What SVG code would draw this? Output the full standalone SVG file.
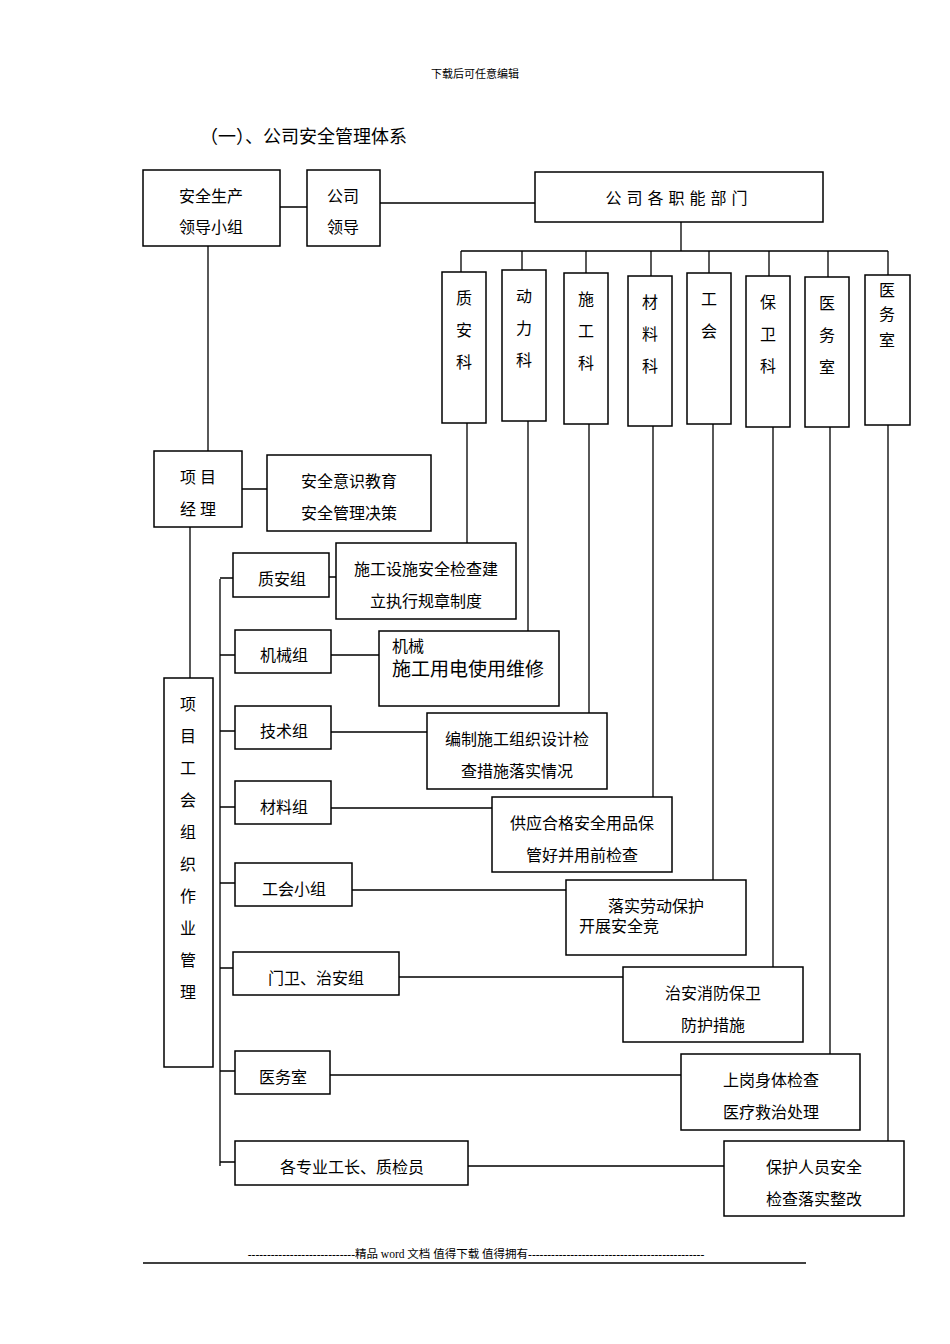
<svg xmlns="http://www.w3.org/2000/svg" width="950" height="1344" viewBox="0 0 950 1344">
<style>
.b{fill:#fff;stroke:#000;stroke-width:1.5}
.l{stroke:#000;stroke-width:1.3;fill:none}
text{font-family:"Liberation Serif","Noto Sans CJK SC",serif;font-size:16px;fill:#000;text-anchor:middle}
text.s{text-anchor:start}
</style>
<rect width="950" height="1344" fill="#fff"/>
<text x="475" y="78" style="font-size:11px">下载后可任意编辑</text>
<text class="s" x="200" y="143" style="font-size:18px">（一）、公司安全管理体系</text>
<g id="connectors">
<path class="l" d="M280 207H307M380 203H535M681 222V251M461 251H888M461 251V272M522 251V270M586 251V273M651 251V276M709 251V273M769 251V276M828 251V277M888 251V275"/>
<path class="l" d="M467 423V543M528 421V634M589 424V717M653 426V802M713 424V890M773 427V967M830 427V1085M888 425V1141"/>
<path class="l" d="M208 246V451M242 489H267M190 527V690M220 579V1166"/>
<path class="l" d="M220 578H245M220 655H245M220 731H245M220 807H245M220 883H245M220 968H245M220 1071H245M220 1162H245"/>
<path class="l" d="M329 577H350M331 655H379M331 732H427M331 808H492M352 890H566M399 977H623M330 1075H681M468 1166H724"/>
</g>
<g id="n1"><rect class="b" x="143" y="170" width="137" height="76"/><text x="211" y="202">安全生产</text><text x="211" y="233">领导小组</text></g>
<g id="n2"><rect class="b" x="307" y="170" width="73" height="76"/><text x="343" y="202">公司</text><text x="343" y="233">领导</text></g>
<g id="n3"><rect class="b" x="535" y="172" width="288" height="50"/><text x="679" y="204" letter-spacing="5">公司各职能部门</text></g>
<g id="d1"><rect class="b" x="442" y="272" width="44" height="151"/><text x="464" y="304">质</text><text x="464" y="336">安</text><text x="464" y="368">科</text></g>
<g id="d2"><rect class="b" x="502" y="270" width="44" height="151"/><text x="524" y="302">动</text><text x="524" y="334">力</text><text x="524" y="366">科</text></g>
<g id="d3"><rect class="b" x="564" y="273" width="44" height="151"/><text x="586" y="305">施</text><text x="586" y="337">工</text><text x="586" y="369">科</text></g>
<g id="d4"><rect class="b" x="628" y="276" width="44" height="150"/><text x="650" y="308">材</text><text x="650" y="340">料</text><text x="650" y="372">科</text></g>
<g id="d5"><rect class="b" x="687" y="273" width="44" height="151"/><text x="709" y="305">工</text><text x="709" y="337">会</text></g>
<g id="d6"><rect class="b" x="746" y="276" width="44" height="151"/><text x="768" y="308">保</text><text x="768" y="340">卫</text><text x="768" y="372">科</text></g>
<g id="d7"><rect class="b" x="805" y="277" width="44" height="150"/><text x="827" y="309">医</text><text x="827" y="341">务</text><text x="827" y="373">室</text></g>
<g id="d8"><rect class="b" x="865" y="275" width="45" height="150"/><text x="887" y="296">医</text><text x="887" y="320">务</text><text x="887" y="346">室</text></g>
<g id="pm"><rect class="b" x="154" y="451" width="88" height="76"/><text x="198" y="483">项 目</text><text x="198" y="515">经 理</text></g>
<g id="edu"><rect class="b" x="267" y="455" width="164" height="76"/><text x="349" y="487">安全意识教育</text><text x="349" y="519">安全管理决策</text></g>
<g id="union"><rect class="b" x="164" y="678" width="49" height="389"/>
<text x="188" y="710">项</text><text x="188" y="742">目</text><text x="188" y="774">工</text><text x="188" y="806">会</text><text x="188" y="838">组</text><text x="188" y="870">织</text><text x="188" y="902">作</text><text x="188" y="934">业</text><text x="188" y="966">管</text><text x="188" y="998">理</text></g>
<g id="g1"><rect class="b" x="233" y="553" width="96" height="44"/><text x="282" y="585">质安组</text></g>
<g id="g2"><rect class="b" x="235" y="630" width="96" height="43"/><text x="284" y="661">机械组</text></g>
<g id="g3"><rect class="b" x="235" y="706" width="96" height="43"/><text x="284" y="737">技术组</text></g>
<g id="g4"><rect class="b" x="235" y="781" width="96" height="43"/><text x="284" y="813">材料组</text></g>
<g id="g5"><rect class="b" x="235" y="863" width="117" height="43"/><text x="294" y="895">工会小组</text></g>
<g id="g6"><rect class="b" x="233" y="952" width="166" height="43"/><text x="316" y="984">门卫、治安组</text></g>
<g id="g7"><rect class="b" x="235" y="1051" width="95" height="43"/><text x="283" y="1083">医务室</text></g>
<g id="g8"><rect class="b" x="235" y="1141" width="233" height="44"/><text x="352" y="1173">各专业工长、质检员</text></g>
<g id="r1"><rect class="b" x="336" y="543" width="180" height="76"/><text x="426" y="575">施工设施安全检查建</text><text x="426" y="607">立执行规章制度</text></g>
<g id="r2"><rect class="b" x="379" y="631" width="180" height="75"/><text class="s" x="392" y="652">机械</text><text class="s" x="392" y="676" style="font-size:19px">施工用电使用维修</text></g>
<g id="r3"><rect class="b" x="427" y="713" width="180" height="76"/><text x="517" y="745">编制施工组织设计检</text><text x="517" y="777">查措施落实情况</text></g>
<g id="r4"><rect class="b" x="492" y="797" width="180" height="75"/><text x="582" y="829">供应合格安全用品保</text><text x="582" y="861">管好并用前检查</text></g>
<g id="r5"><rect class="b" x="566" y="880" width="180" height="75"/><text x="656" y="912">落实劳动保护</text><text class="s" x="579" y="932">开展安全竞</text></g>
<g id="r6"><rect class="b" x="623" y="967" width="180" height="75"/><text x="713" y="999">治安消防保卫</text><text x="713" y="1031">防护措施</text></g>
<g id="r7"><rect class="b" x="681" y="1054" width="179" height="76"/><text x="771" y="1086">上岗身体检查</text><text x="771" y="1118">医疗救治处理</text></g>
<g id="r8"><rect class="b" x="724" y="1141" width="180" height="75"/><text x="814" y="1173">保护人员安全</text><text x="814" y="1205">检查落实整改</text></g>
<text x="476" y="1258" style="font-size:11.5px">----------------------------精品 word 文档 值得下载 值得拥有----------------------------------------------</text>
<path class="l" d="M143 1263H806"/>
</svg>
